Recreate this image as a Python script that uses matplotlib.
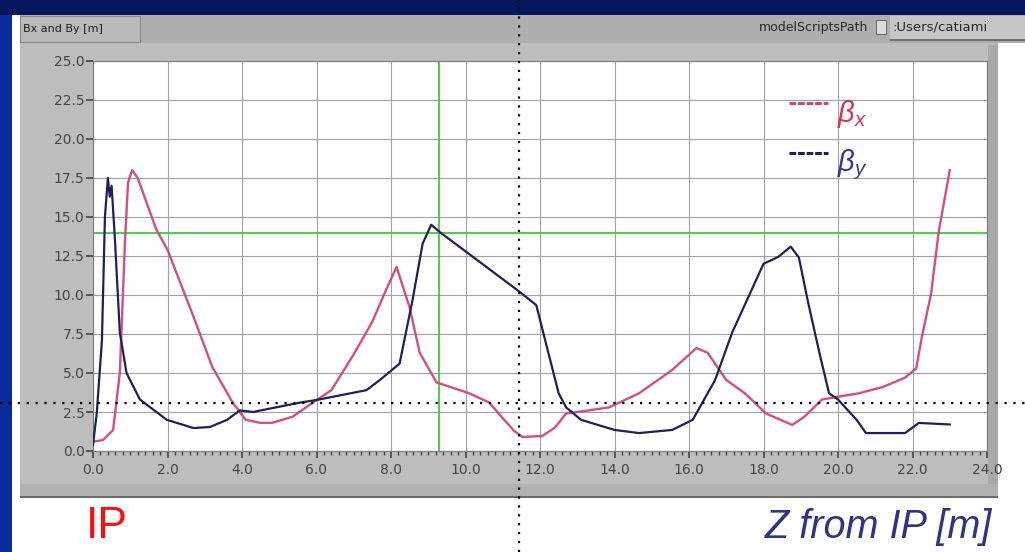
"""Beta functions (betax / betay) vs distance from the IP, LabVIEW-style panel."""
import matplotlib
matplotlib.use("Agg")
import matplotlib.pyplot as plt
from matplotlib.patches import Rectangle
from matplotlib.lines import Line2D

plt.rcParams["font.family"] = ["DejaVu Sans"]
plt.rcParams["mathtext.fontset"] = "custom"
plt.rcParams["mathtext.it"] = "Liberation Sans:italic"
plt.rcParams["mathtext.rm"] = "Liberation Sans"

# --- data ----------------------------------------------------------------
bx_z = [0.0, 0.27, 0.54, 0.72, 0.86, 0.94, 1.05, 1.2, 1.7, 2.0, 2.7, 3.2, 3.75,
        4.1, 4.5, 4.8, 5.36, 5.9, 6.4, 7.0, 7.5, 7.9, 8.15, 8.5, 8.77, 9.22,
        10.1, 10.64, 11.0, 11.3, 11.53, 12.06, 12.4, 12.7, 13.3, 13.86, 14.66,
        15.55, 16.2, 16.5, 17.0, 17.5, 18.07, 18.77, 19.1, 19.57, 19.95, 20.56,
        21.2, 21.8, 22.1, 22.25, 22.5, 22.7, 23.0]
bx = [0.6, 0.7, 1.35, 5.0, 13.5, 17.2, 18.0, 17.5, 14.2, 12.9, 8.6, 5.4, 3.1,
      2.0, 1.8, 1.8, 2.2, 3.1, 3.9, 6.2, 8.3, 10.5, 11.8, 9.2, 6.3, 4.4,
      3.7, 3.1, 2.1, 1.3, 0.9, 0.96, 1.5, 2.4, 2.6, 2.8, 3.7,
      5.2, 6.6, 6.3, 4.55, 3.7, 2.4, 1.67, 2.2, 3.3, 3.46, 3.7,
      4.1, 4.7, 5.3, 7.3, 10.1, 14.0, 18.0]

by_z = [0.0, 0.1, 0.24, 0.32, 0.4, 0.45, 0.5, 0.59, 0.72, 0.9, 1.26, 1.98, 2.7,
        3.14, 3.6, 3.94, 4.3, 4.5, 5.55, 6.0, 7.34, 7.7, 8.23, 8.58, 8.85, 9.08,
        9.3, 11.4, 11.9, 12.5, 12.7, 13.1, 14.0, 14.66, 15.55, 16.1, 16.7,
        17.16, 17.6, 18.0, 18.4, 18.73, 18.95, 19.2, 19.5, 19.76, 20.0, 20.5,
        20.75, 21.8, 22.17, 23.0]
by = [0.4, 2.4, 7.1, 15.0, 17.5, 16.3, 17.0, 13.5, 7.6, 5.0, 3.3, 2.0, 1.47,
      1.54, 2.0, 2.6, 2.5, 2.6, 3.1, 3.27, 3.9, 4.55, 5.6, 9.7, 13.3, 14.5,
      14.05, 10.3, 9.35, 3.7, 2.8, 2.0, 1.35, 1.15, 1.35, 2.0, 4.55,
      7.6, 9.9, 12.0, 12.45, 13.1, 12.4, 9.5, 6.3, 3.7, 3.3, 2.0,
      1.15, 1.15, 1.8, 1.7]

cursor_z, cursor_beta = 9.28, 14.0
x_ticks = [0, 2, 4, 6, 8, 10, 12, 14, 16, 18, 20, 22, 24]
y_ticks = [0, 2.5, 5, 7.5, 10, 12.5, 15, 17.5, 20, 22.5, 25]

# --- figure in pixel units (1025 x 552) ------------------------------------
W, H = 1025, 552
fig = plt.figure(figsize=(W / 100, H / 100), dpi=100, facecolor="#0b2a9c")


def fx(x):
    return x / W


def fy(y):
    return 1 - y / H


def rect(x0, y0, x1, y1, color, z=-5, edge="none", lw=0):
    fig.add_artist(Rectangle((fx(x0), fy(y1)), (x1 - x0) / W, (y1 - y0) / H,
                             transform=fig.transFigure, facecolor=color,
                             edgecolor=edge, linewidth=lw, zorder=z))


rect(0, 0, W, 15, "#06175e", z=-9)            # dark top band
rect(12, 15, W, H, "white", z=-8)              # slide panel
rect(20, 15, W, 43, "#aeaeae", z=-7)           # title bar
rect(20, 16, 140, 42, "#b9b9b9", z=-6, edge="#8a8a8a", lw=0.8)
rect(890, 16, W, 40, "#c6c6c6", z=-6)
rect(890, 39, W, 41, "#6e6e6e", z=-6)
rect(20, 43, 998, 497, "#bdbdbd", z=-7)        # graph frame
rect(20, 484, 998, 497, "#b1b1b1", z=-6)
rect(20, 496, 998, 498, "#6a6a6a", z=-6)
rect(988, 45, 998, 484, "#a9a9a9", z=-6)

fig.text(fx(23), fy(29), "Bx and By [m]", fontsize=8, color="#1e1e1e", va="center")
fig.text(fx(868), fy(27), "modelScriptsPath", fontsize=9, color="#262626",
         va="center", ha="right")
rect(876, 20, 886, 34, "#dcdcdc", z=-5, edge="#555555", lw=0.6)
fig.text(fx(893), fy(27), ":Users/catiami", fontsize=9.5, color="#262626", va="center")

# --- plot ---------------------------------------------------------------
ax = fig.add_axes([fx(93), fy(451), (987 - 93) / W, (451 - 61) / H])
ax.set_facecolor("white")
ax.plot(bx_z, bx, color="#d4447a", lw=1.7, alpha=0.95, zorder=3)
ax.plot(by_z, by, color="#1f1f5e", lw=1.6, zorder=4)
ax.axvline(cursor_z, color="#3ccc3c", lw=1.3, zorder=2)
ax.axhline(cursor_beta, color="#3ccc3c", lw=1.3, zorder=2)

ax.set_xlim(0, 24)
ax.set_ylim(0, 25)
ax.set_xticks(x_ticks)
ax.set_xticklabels([f"{t:.1f}" for t in x_ticks])
ax.set_xticks([t / 5 for t in range(0, 121)], minor=True)
ax.set_yticks(y_ticks)
ax.set_yticklabels([f"{t:.1f}" for t in y_ticks])
ax.grid(True, which="major", color="#a2a2a2", lw=0.8)
ax.set_axisbelow(True)
ax.tick_params(axis="both", which="major", direction="out", colors="#444444",
               labelsize=10, length=5, width=1.2)
ax.tick_params(axis="x", which="minor", direction="out", colors="#444444",
               length=3, width=1.0)
ax.tick_params(axis="x", pad=4)
ax.tick_params(axis="y", pad=1)
for side, sp in ax.spines.items():
    sp.set_color("#7a7a7a")
    sp.set_linewidth(0.8)

# legend (drawn by hand, sample line sits at the top of the glyph)
for (yy, label, lcol, tcol) in [(0.893, r"$\beta_x$", "#d4447a", "#e0304c"),
                               (0.765, r"$\beta_y$", "#1f1f5e", "#2b3a9c")]:
    ax.plot([0.779, 0.822], [yy, yy], transform=ax.transAxes, color=lcol,
            lw=2.2, ls=(0, (2.2, 0.6)), zorder=6)
    ax.text(0.832, yy - 0.03, label, transform=ax.transAxes, color=tcol,
            fontsize=21, va="center", ha="left", zorder=6)

# --- slide annotations -------------------------------------------------
fig.text(fx(86), fy(527), "IP", fontsize=32, color="#ff0d0d",
         family="Liberation Sans", va="center", ha="left")
fig.text(fx(992), fy(527), "Z from IP [m]", fontsize=28.5, color="#2c3585",
         family="Liberation Sans", style="italic", va="center", ha="right")

# dotted crosshair laid over the whole slide
fig.add_artist(Line2D([0, 1], [fy(403), fy(403)], transform=fig.transFigure,
                      color="black", lw=1.6, ls=(0, (1, 3)), zorder=10))
fig.add_artist(Line2D([fx(519), fx(519)], [0, 1], transform=fig.transFigure,
                      color="black", lw=1.6, ls=(0, (1, 3)), zorder=10))

fig.savefig("out.png", dpi=100, facecolor=fig.get_facecolor())
